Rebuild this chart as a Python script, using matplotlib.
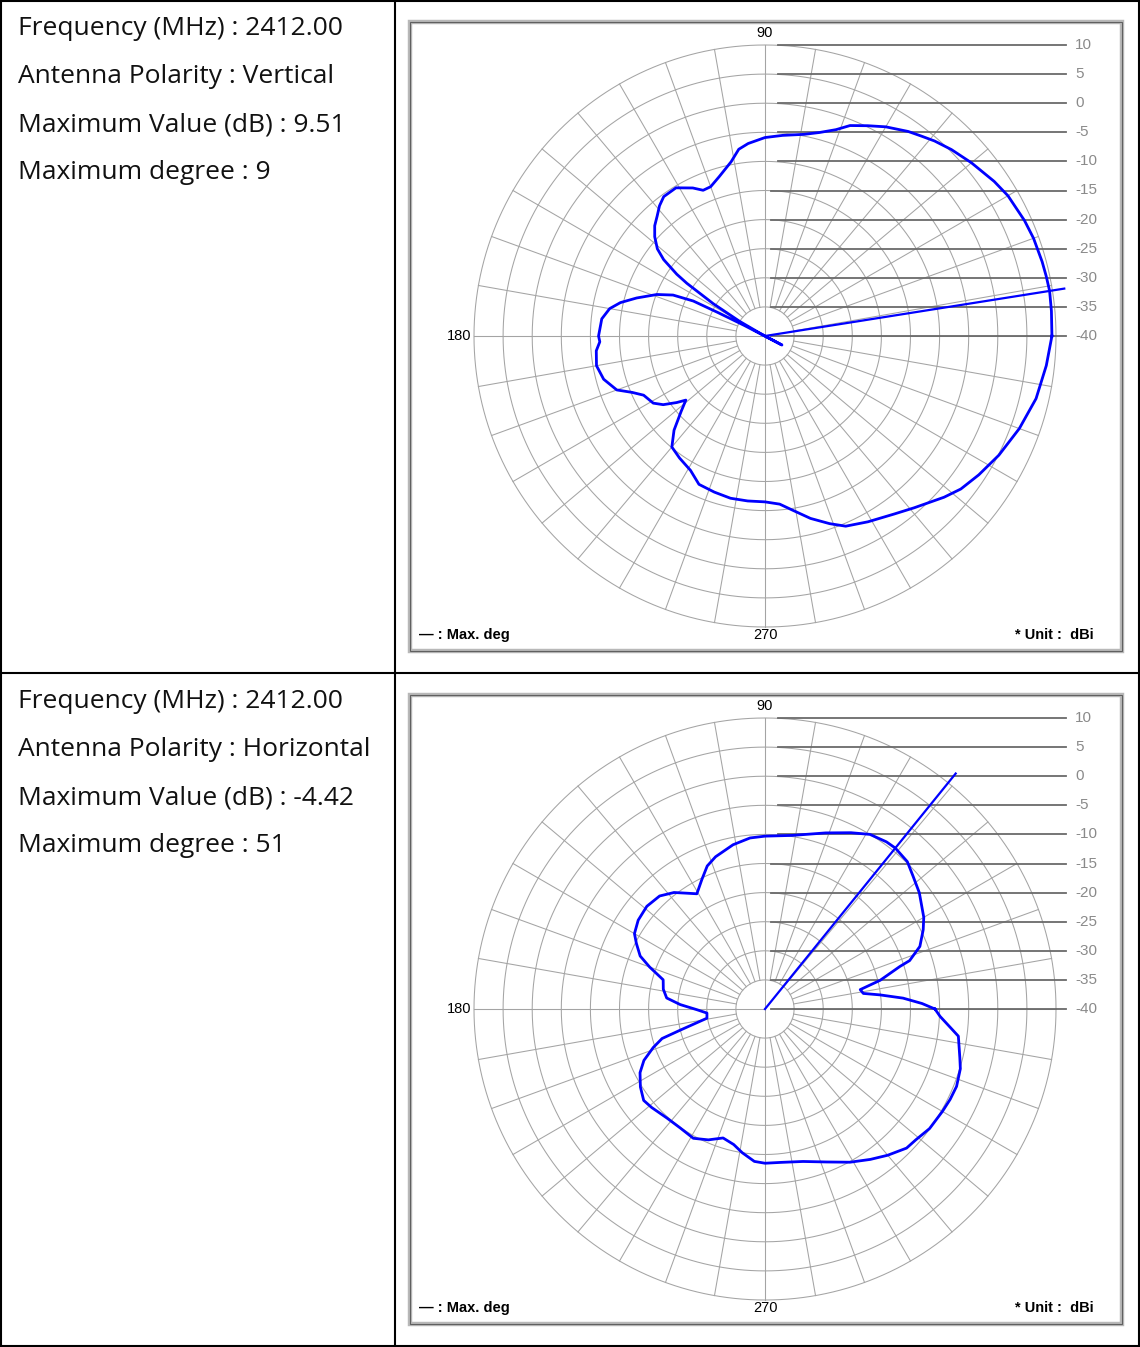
import numpy as np
import matplotlib.pyplot as plt
from matplotlib.lines import Line2D
from matplotlib.patches import Rectangle

# ---- data ----
freq = "2412.00"

v_deg = [0, 5, 9, 12, 15, 20, 24, 30, 34, 40, 45, 49, 52, 55, 60, 64, 68, 71, 75, 79,
         85, 90, 95, 98, 101, 106, 110, 113, 116, 121, 126, 129, 132, 135, 138, 141, 143,
         145, 146, 148, 150, 151, 152, 153, 153.5, 154, 156, 159, 163.5, 167, 170, 174,
         180, 182, 185, 190, 195, 200, 203, 206, 211, 214, 217, 219, 222, 226, 230, 235,
         241, 246, 252, 258, 264, 270, 275, 279, 284, 289, 293, 299, 306, 311, 318, 322,
         327, 333, 340, 347, 354, 360]
v_gain = [9.3, 9.4, 9.51, 9.4, 9.3, 9.1, 8.8, 8.2, 7.5, 6.3, 5.3, 4.4, 3.6, 2.9, 1.5, 0.2,
          -1.0, -2.5, -3.8, -4.7, -5.4, -5.9, -6.8, -7.6, -9.5, -11.5, -12.7, -12.8, -11.7,
          -10.3, -10.4, -11.2, -12.3, -13.2, -14.5, -16.2, -18.2, -21.5, -23.8, -29.5, -35.0,
          -39.0, -43.3, -36.0, -31.0, -26.3, -22.7, -20.1, -17.0, -14.5, -12.9, -11.8, -11.4,
          -11.6, -10.9, -10.6, -11.3, -12.9, -15.2, -16.8, -17.6, -18.9, -21.0, -22.5, -20.6,
          -17.5, -15.1, -14.4, -13.6, -12.1, -11.8, -11.5, -11.5, -11.5, -11.0, -9.7, -7.7,
          -5.9, -4.5, -3.5, -2.2, -0.9, 1.4, 2.7, 3.8, 5.1, 6.5, 7.8, 8.6, 9.3]

h_deg = [0, 2, 4.5, 7, 9, 11.5, 14, 17.5, 18.5, 22, 26.6, 30, 37, 42, 46, 51, 54, 59, 64,
         71, 81, 90, 95, 101, 108, 112, 116, 120.6, 124, 128, 133, 139, 145, 150, 153, 157,
         160, 164, 169, 173.6, 177, 180.6, 184, 189, 194, 196, 199, 203, 207, 212, 217, 221,
         228, 234.5, 241, 246.6, 252, 257, 261, 266, 270, 276, 284, 292, 299, 305, 310, 315.5,
         319, 324, 330, 334, 338, 343, 346, 352, 354, 357.6, 360]
h_gain = [-10.8, -13.0, -16.2, -20.1, -22.9, -23.3, -19.6, -15.7, -13.8, -11.3, -9.6, -8.5,
          -6.8, -5.8, -4.8, -4.42, -4.5, -5.0, -6.3, -8.0, -9.8, -10.3, -10.5, -11.25, -12.5,
          -13.5, -15.25, -17.0, -16.0, -14.6, -13.45, -13.1, -13.4, -14.1, -15.2, -16.7, -18.9,
          -21.8, -22.2, -23.0, -25.4, -28.3, -30.0, -29.9, -25.0, -21.6, -19.7, -17.4, -15.9,
          -14.75, -13.9, -14.2, -14.8, -14.9, -14.6, -15.5, -16.7, -16.1, -15.0, -13.75, -13.5,
          -13.5, -13.0, -11.65, -9.9, -8.45, -7.2, -5.9, -5.7, -5.05, -4.8, -4.6, -4.5, -4.9,
          -5.5, -6.45, -7.8, -9.9, -10.8]

polarity = ["Vertical", "Horizontal"]
max_value = ["9.51", "-4.42"]
max_degree = [9, 51]

ring_db = [10, 5, 0, -5, -10, -15, -20, -25, -30, -35, -40]

# ---- layout (pixels of the 1140x1347 page) ----
W, H = 1140, 1347
S = 5.82          # pixels per dB
FLOOR = -40

fig = plt.figure(figsize=(W / 100, H / 100), dpi=100)
fig.patch.set_facecolor("white")


def hline(x0, x1, y, **kw):
    fig.add_artist(Line2D([x0 / W, x1 / W], [1 - y / H, 1 - y / H],
                          transform=fig.transFigure, **kw))


def vline(x, y0, y1, **kw):
    fig.add_artist(Line2D([x / W, x / W], [1 - y0 / H, 1 - y1 / H],
                          transform=fig.transFigure, **kw))


# table borders
tab = dict(color="black", lw=1.5, solid_capstyle="projecting")
hline(1, 1139, 1, **tab)
hline(1, 1139, 673, **tab)
hline(1, 1139, 1345.5, **tab)
vline(1, 1, 1346, **tab)
vline(394.5, 1, 1346, **tab)
vline(1138.5, 1, 1346, **tab)

txt_font = ["Open Sans", "DejaVu Sans"]
small_font = ["Liberation Sans Narrow", "Liberation Sans", "DejaVu Sans"]


def draw_pattern(top, deg, gain, pol, mval, mdeg):
    # info text on the left
    lines = ["Frequency (MHz) : " + freq,
             "Antenna Polarity : " + pol,
             "Maximum Value (dB) : " + mval,
             "Maximum degree : " + str(mdeg)]
    for i, s in enumerate(lines):
        fig.text(18 / W, 1 - (top + 35 + 48 * i) / H, s, fontsize=19,
                 family=txt_font, va="baseline", ha="left", color="#111111")

    # plot frame
    fx0, fy0, fw, fh = 410, top + 22, 712, 629
    cx, cy = 765, top + 336
    ax = fig.add_axes([fx0 / W, 1 - (fy0 + fh) / H, fw / W, fh / H])
    ax.set_xlim((fx0 - cx) / S, (fx0 + fw - cx) / S)
    ax.set_ylim((cy - (fy0 + fh)) / S, (cy - fy0) / S)
    ax.axis("off")
    ax.add_patch(Rectangle((0, 0), 1, 1, transform=ax.transAxes, facecolor="white",
                           edgecolor="#b8b8b8", lw=3.2, zorder=0, clip_on=False))
    ax.add_patch(Rectangle((0, 0), 1, 1, transform=ax.transAxes, facecolor="none",
                           edgecolor="#606060", lw=0.8, zorder=0.5, clip_on=False))

    R = 10 - FLOOR
    grid = dict(color="#a4a4a4", lw=0.75, zorder=1)
    t = np.linspace(0, 2 * np.pi, 721)
    for db in ring_db[:-1]:
        r = db - FLOOR
        ax.plot(r * np.cos(t), r * np.sin(t), **grid)
    r_in = ring_db[-2] - FLOOR
    for a in range(0, 360, 10):
        th = np.radians(a)
        ax.plot([r_in * np.cos(th), R * np.cos(th)], [r_in * np.sin(th), R * np.sin(th)], **grid)
    ax.plot([0, 0], [-R, R], **grid)
    ax.plot([-R, 0], [0, 0], **grid)

    # reference lines with dB labels
    x_end = 301 / S
    for db in ring_db:
        y = db - FLOOR
        x_start = 13 / S if db > -15 else 6 / S
        ax.plot([x_start, x_end], [y, y], color="#6a6a6a", lw=1.3, zorder=2)
        ax.text(x_end + 9 / S, y, str(db), fontsize=11, family=small_font,
                color="#8a8a8a", ha="left", va="center")

    ax.text(0, R + 12 / S, "90", fontsize=10.5, family=small_font, ha="center", va="center")
    ax.text(-R - 3 / S, 0, "180", fontsize=10.5, family=small_font, ha="right", va="center")
    ax.text(0, -299 / S, "270", fontsize=10.5, family=small_font, ha="center", va="center")
    ax.text((419 - cx) / S, -299 / S, "\u2014 : Max. deg", fontsize=10.5, family=small_font,
            fontweight="bold", ha="left", va="center")
    ax.text((1094 - cx) / S, -299 / S, "* Unit :  dBi", fontsize=10.5, family=small_font,
            fontweight="bold", ha="right", va="center")

    # measured pattern
    th = np.radians(np.array(deg))
    r = np.array(gain) - FLOOR
    ax.plot(r * np.cos(th), r * np.sin(th), color="#0000ff", lw=2.0, zorder=4,
            solid_joinstyle="round")

    # max direction line
    tm = np.radians(mdeg)
    rm = 303 / S
    ax.plot([0, rm * np.cos(tm)], [0, rm * np.sin(tm)], color="#0000ff", lw=1.6, zorder=4)


draw_pattern(0, v_deg, v_gain, polarity[0], max_value[0], max_degree[0])
draw_pattern(673, h_deg, h_gain, polarity[1], max_value[1], max_degree[1])

fig.savefig("out.png", dpi=100)
